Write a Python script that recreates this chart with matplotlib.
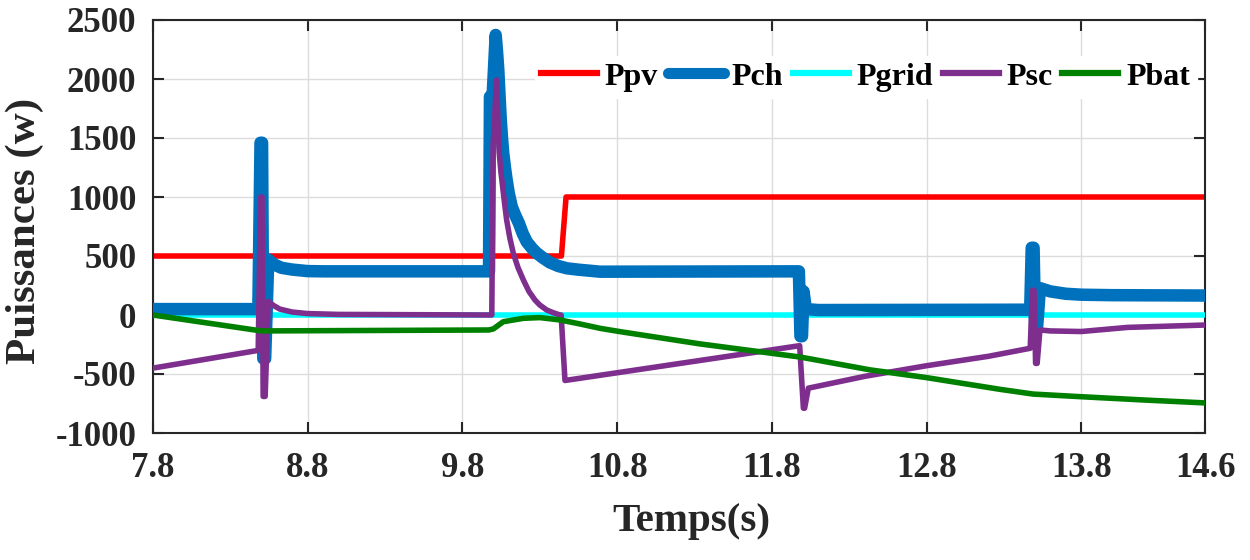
import matplotlib
matplotlib.use("Agg")
import matplotlib.pyplot as plt

# ---------------- data ----------------
t_ppv = [7.80, 10.44, 10.47, 14.60]
p_ppv = [500, 500, 1000, 1000]

t_pch = [7.80, 8.481, 8.495, 8.505, 8.513, 8.525, 8.545, 8.58, 8.63, 8.70, 8.80, 8.90,
         9.972, 9.978, 9.995, 10.015, 10.024, 10.032, 10.040, 10.048, 10.056, 10.064,
         10.075, 10.086, 10.10, 10.119, 10.14, 10.166, 10.19, 10.216, 10.25, 10.280,
         10.32, 10.366, 10.42, 10.474, 10.55, 10.625, 10.69, 11.975, 11.985, 11.995,
         12.005, 12.02, 12.10, 13.47, 13.48, 13.492, 13.502, 13.515, 13.533, 13.60,
         13.70, 13.80, 14.00, 14.60]
p_pch = [50, 50, 1460, 1460, -370, -370, 470, 430, 400, 385, 372, 370,
         370, 1850, 1850, 2373, 2230, 2076, 1860, 1653, 1500, 1370,
         1250, 1144, 1030, 918, 850, 775, 690, 620, 565, 525,
         485, 445, 415, 396, 384, 375, 367, 370, -180, -180,
         200, 50, 42, 45, 570, 570, -100, -100, 228, 200,
         180, 172, 168, 165]

t_pgrid = [7.80, 14.60]
p_pgrid = [0, 0]

t_psc = [7.80, 8.48, 8.495, 8.505, 8.512, 8.525, 8.545, 8.58, 8.62, 8.70, 8.80, 9.00,
         9.99, 9.998, 10.021, 10.030, 10.038, 10.049, 10.060, 10.073, 10.086, 10.107,
         10.129, 10.16, 10.194, 10.23, 10.269, 10.30, 10.345, 10.39, 10.431, 10.438,
         10.463, 11.98, 12.004, 12.012, 12.036, 12.40, 12.80, 13.20, 13.47, 13.485,
         13.495, 13.505, 13.515, 13.533, 13.60, 13.80, 14.10, 14.60]
p_psc = [-450, -300, 1000, 1000, -690, -690, 115, 80, 50, 25, 12, 5,
         0, 1426, 1992, 1650, 1370, 1210, 1088, 940, 805, 650,
         523, 400, 297, 200, 127, 85, 42, 18, 0, 0,
         -555, -260, -790, -790, -620, -520, -430, -350, -282, 210,
         210, -410, -410, -127, -135, -140, -105, -85]

t_pbat = [7.80, 8.50, 9.97, 10.00, 10.064, 10.194, 10.30, 10.431, 10.56, 10.69, 10.819,
          11.336, 11.982, 12.435, 12.797, 13.275, 13.489, 13.792, 14.20, 14.60]
p_pbat = [0, -135, -127, -118, -57, -28, -22, -42, -76, -113, -141,
          -245, -356, -465, -530, -630, -670, -692, -720, -745]

xticks = [7.8, 8.8, 9.8, 10.8, 11.8, 12.8, 13.8, 14.6]
yticks = [-1000, -500, 0, 500, 1000, 1500, 2000, 2500]

# ---------------- figure ----------------
plt.rcParams['font.family'] = ['Liberation Serif', 'DejaVu Serif']
plt.rcParams['font.weight'] = 'bold'
plt.rcParams['axes.unicode_minus'] = False

fig = plt.figure(figsize=(12.5, 5.6), dpi=100)
ax = fig.add_axes([153 / 1250, 127 / 560, 1052 / 1250, 413 / 560])

ax.plot(t_ppv, p_ppv, color='#ff0000', lw=4.0, label='Ppv', zorder=2)
ax.plot(t_pch, p_pch, color='#0072bd', lw=9.0, label='Pch', zorder=4,
        solid_capstyle='round', solid_joinstyle='round')
ax.plot(t_pgrid, p_pgrid, color='#00ffff', lw=4.0, label='Pgrid', zorder=3)
ax.plot(t_psc, p_psc, color='#7e2f8e', lw=4.0, label='Psc', zorder=5)
ax.plot(t_pbat, p_pbat, color='#008000', lw=4.0, label='Pbat', zorder=6)

ax.set_xlim(7.8, 14.6)
ax.set_ylim(-1000, 2500)
ax.set_xticks(xticks)
ax.set_xticklabels([f"{v:g}" for v in xticks])
ax.set_yticks(yticks)
ax.grid(True, color='#dcdcdc', lw=1.0, zorder=0)
ax.tick_params(direction='in', length=8, width=1.5, top=True, right=True,
               colors='#262626', labelsize=25)
ax.tick_params(axis='x', pad=14)
ax.tick_params(axis='y', pad=12)
for lab in ax.get_xticklabels() + ax.get_yticklabels():
    lab.set_fontweight('bold')
for s in ax.spines.values():
    s.set_color('#262626')
    s.set_linewidth(1.5)

ax.set_xlabel('Temps(s)', fontsize=29.5, fontweight='bold', color='#262626')
ax.xaxis.set_label_coords(0.512, -0.17)
ax.set_ylabel('Puissances (w)', fontsize=31, fontweight='bold', color='#262626')
ax.yaxis.set_label_coords(-0.104, 0.49)

leg = ax.legend(ncol=5, loc='center right', bbox_to_anchor=(0.992, 0.862),
                frameon=True, fancybox=False, framealpha=1, edgecolor='white',
                facecolor='white', prop={'size': 23, 'weight': 'bold'},
                handlelength=1.75, handletextpad=0.25, columnspacing=0.3,
                borderpad=0.2, borderaxespad=0)
for h in leg.get_lines():
    h.set_linewidth(4.5)
leg.get_lines()[1].set_linewidth(8)
leg.set_zorder(10)

fig.savefig('out.png', dpi=100)
